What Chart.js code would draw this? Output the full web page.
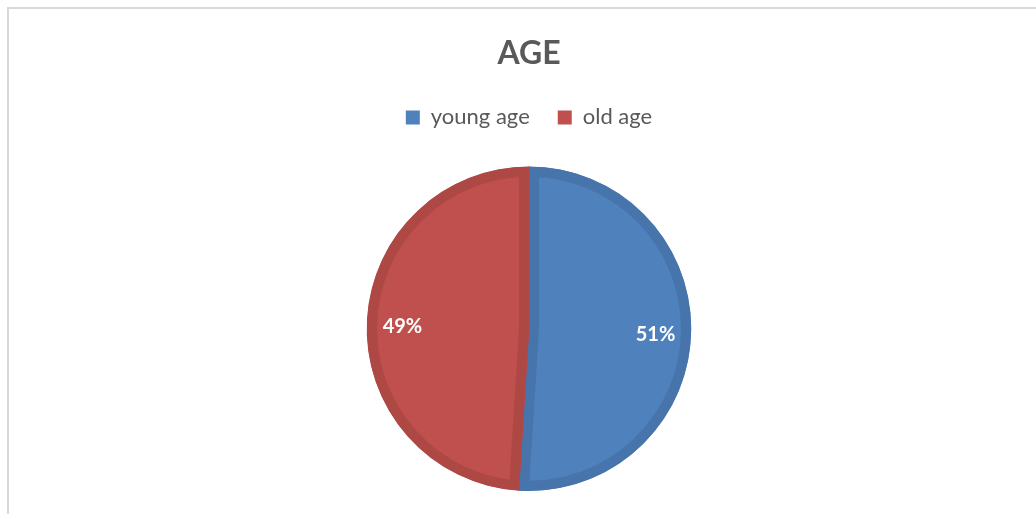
<!DOCTYPE html>
<html>
<head>
<meta charset="utf-8">
<script src="https://cdn.jsdelivr.net/npm/chart.js@4.4.1/dist/chart.umd.min.js"></script>
<style>
    html, body { margin: 0; padding: 0; background: #ffffff; }
    #frame {
        position: absolute;
        left: 7px;
        top: 7px;
        width: 1040px;
        height: 520px;
        border: 2px solid #d9d9d9;
    }
    #wrap {
        position: absolute;
        left: 0;
        top: 0;
        width: 1036px;
        height: 514px;
    }
</style>
</head>
<body>
<div id="frame"></div>
<div id="wrap"><canvas id="ageChart" width="1036" height="514"></canvas></div>
<script>
// Chart data
const categories = ['young age', 'old age'];
const shares = [51, 49];
const sliceColors = ['#4f81bd', '#c0504d'];
const ringColors = ['#4674ab', '#ae4845'];

/**
 * Extra room under the legend so the pie sits where it does in the picture
 */
const legendSpacer = {
    id: 'legendSpacer',
    beforeInit(chart) {
        const originalFit = chart.legend.fit;
        chart.legend.fit = function () {
            originalFit.bind(chart.legend)();
            this.height += 28;
        };
    }
};

/**
 * Percent labels inside the slices
 */
const sliceLabels = {
    id: 'sliceLabels',
    afterDatasetsDraw(chart) {
        const ctx = chart.ctx;
        const meta = chart.getDatasetMeta(0);
        const total = shares.reduce((a, b) => a + b, 0);
        ctx.save();
        ctx.fillStyle = '#ffffff';
        ctx.font = 'bold 20px Lato';
        ctx.textAlign = 'center';
        ctx.textBaseline = 'middle';
        meta.data.forEach((arc, i) => {
            const p = arc.getProps(['x', 'y', 'startAngle', 'endAngle', 'outerRadius'], true);
            const mid = (p.startAngle + p.endAngle) / 2;
            const r = p.outerRadius * 0.78;
            const pct = Math.round(shares[i] / total * 100) + '%';
            ctx.fillText(pct, p.x + Math.cos(mid) * r, p.y + Math.sin(mid) * r + 2);
        });
        ctx.restore();
    }
};

new Chart(document.getElementById('ageChart'), {
    type: 'pie',
    data: {
        labels: categories,
        datasets: [{
            data: shares,
            backgroundColor: sliceColors,
            borderColor: ringColors,
            borderWidth: 10,
            borderAlign: 'inner',
            hoverOffset: 0
        }]
    },
    options: {
        responsive: false,
        animation: false,
        layout: {
            padding: { left: 22, right: 0, top: 0, bottom: 23 }
        },
        plugins: {
            title: {
                display: true,
                text: 'AGE',
                color: '#595959',
                font: { family: 'Lato', size: 32, weight: 'bold' },
                padding: { top: 34, bottom: 6 }
            },
            legend: {
                position: 'top',
                labels: {
                    color: '#595959',
                    font: { family: 'Lato', size: 22 },
                    boxWidth: 14,
                    boxHeight: 14,
                    padding: 28,
                    generateLabels(chart) {
                        return categories.map((name, i) => ({
                            text: name,
                            fillStyle: sliceColors[i],
                            strokeStyle: sliceColors[i],
                            lineWidth: 0,
                            fontColor: '#595959',
                            hidden: false,
                            index: i
                        }));
                    }
                }
            },
            tooltip: { enabled: false }
        }
    },
    plugins: [legendSpacer, sliceLabels]
});
</script>
</body>
</html>
